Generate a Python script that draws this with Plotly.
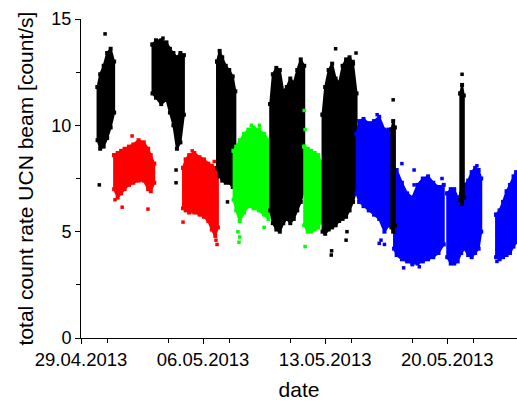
import pandas as pd
import plotly.graph_objects as go

BASE = pd.Timestamp("2013-04-29")

# ---- data: dense clusters as (time in days since 29.04.2013, lower, upper envelope) ----
black1_t = [0.95, 1.1, 1.3, 1.5, 1.7, 1.9]
black1_lo = [9.3, 8.9, 9.0, 9.4, 9.9, 10.6]
black1_hi = [11.8, 12.4, 12.8, 13.4, 13.6, 13.0]

red1_t = [1.9, 2.1, 2.3, 2.5, 2.75, 3.0, 3.3, 3.6, 3.85, 4.0, 4.2]
red1_lo = [7.0, 6.6, 6.8, 7.0, 7.2, 7.3, 7.4, 7.4, 7.0, 6.9, 7.3]
red1_hi = [8.6, 8.7, 8.8, 8.9, 9.0, 9.1, 9.3, 9.2, 8.9, 8.6, 8.2]

black2_t = [4.1, 4.3, 4.6, 4.9, 5.1, 5.3, 5.5, 5.7, 5.9]
black2_lo = [11.5, 11.3, 11.0, 11.2, 10.6, 10.0, 8.9, 9.2, 10.5]
black2_hi = [13.8, 14.0, 14.0, 13.9, 13.6, 13.4, 13.2, 13.4, 13.3]

red2_t = [5.85, 6.0, 6.2, 6.5, 6.8, 7.05, 7.3, 7.5, 7.7, 7.85]
red2_lo = [6.1, 6.0, 5.9, 5.9, 5.8, 5.7, 5.5, 5.1, 4.8, 5.2]
red2_hi = [8.0, 8.4, 8.6, 8.7, 8.5, 8.4, 8.2, 8.1, 8.0, 7.6]

black3_t = [7.8, 7.95, 8.1, 8.3, 8.5, 8.7, 8.85]
black3_lo = [8.0, 7.6, 7.4, 7.3, 7.3, 7.1, 7.6]
black3_hi = [13.0, 13.5, 13.2, 12.8, 12.6, 12.3, 11.6]

green1_t = [8.75, 8.9, 9.1, 9.35, 9.6, 9.9, 10.2, 10.5, 10.75, 10.9]
green1_lo = [6.5, 6.0, 5.5, 5.9, 6.2, 6.1, 6.0, 5.8, 5.6, 6.5]
green1_hi = [8.8, 9.0, 9.3, 9.6, 9.8, 9.9, 9.8, 9.6, 9.3, 8.8]

black4_t = [10.85, 11.0, 11.2, 11.4, 11.6, 11.8, 12.0, 12.2, 12.4, 12.6, 12.8]
black4_lo = [6.0, 5.4, 5.1, 5.0, 5.4, 5.6, 5.4, 5.6, 6.0, 6.4, 7.0]
black4_hi = [11.0, 12.4, 12.7, 12.6, 11.6, 11.8, 12.2, 12.0, 12.6, 13.1, 12.8]

green2_t = [12.8, 13.0, 13.2, 13.4, 13.6, 13.8]
green2_lo = [5.3, 5.0, 5.0, 5.1, 5.2, 5.5]
green2_hi = [9.0, 8.9, 8.8, 8.7, 8.6, 8.2]

black5_t = [13.85, 14.0, 14.2, 14.4, 14.6, 14.8, 15.0, 15.2, 15.4, 15.6, 15.8]
black5_lo = [5.0, 4.9, 5.1, 5.2, 5.3, 5.5, 5.6, 5.7, 6.0, 6.4, 7.0]
black5_hi = [10.5, 11.8, 12.6, 12.9, 12.2, 12.0, 12.8, 13.1, 13.2, 12.9, 11.5]

blue1_t = [15.8, 15.95, 16.2, 16.5, 16.8, 17.1, 17.4, 17.65, 17.85]
blue1_lo = [6.8, 6.4, 6.2, 6.0, 5.8, 5.6, 5.0, 5.3, 5.6]
blue1_hi = [9.6, 10.2, 10.3, 10.1, 10.2, 10.4, 9.8, 9.8, 9.2]

black6_t = [17.8, 17.9, 18.0]
black6_lo = [5.2, 5.0, 5.3]
black6_hi = [9.8, 10.2, 9.9]

blue2_t = [17.95, 18.1, 18.4, 18.7, 19.0, 19.3, 19.6, 19.9, 20.2, 20.5, 20.8]
blue2_lo = [4.2, 3.9, 3.7, 3.6, 3.5, 3.5, 3.6, 3.7, 3.8, 4.0, 4.4]
blue2_hi = [7.6, 7.9, 7.3, 6.8, 6.6, 7.2, 7.5, 7.6, 7.3, 7.1, 7.2]

black7_t = [21.75, 21.85, 21.95]
black7_lo = [6.5, 6.3, 6.6]
black7_hi = [11.5, 11.9, 11.4]

blue3_t = [21.0, 21.2, 21.4, 21.6, 21.8, 22.0, 22.2, 22.4, 22.6, 22.8, 22.95]
blue3_lo = [3.8, 3.5, 3.5, 3.6, 4.0, 4.2, 3.9, 3.8, 4.0, 4.2, 5.0]
blue3_hi = [6.8, 7.0, 7.0, 6.6, 6.8, 7.2, 7.4, 7.8, 8.0, 7.9, 7.5]

blue4_t = [23.8, 24.0, 24.2, 24.4, 24.6, 24.8, 24.95]
blue4_lo = [3.8, 3.7, 3.8, 3.9, 4.0, 4.3, 4.5]
blue4_hi = [5.8, 6.0, 6.4, 6.9, 7.2, 7.6, 7.8]

# ---- isolated points ----
black_out_t = [1.05, 1.38, 4.7, 5.45, 5.45, 8.4, 14.35, 14.37, 14.6, 15.77, 15.6,
               15.2, 15.25, 17.9, 21.85]
black_out_v = [7.2, 14.3, 14.1, 7.3, 7.9, 6.4, 3.9, 4.1, 13.6, 13.4, 13.0,
               4.6, 5.0, 11.2, 12.4]
red_out_t = [1.95, 2.36, 3.84, 2.93, 5.85, 6.38, 7.64, 7.74, 7.8]
red_out_v = [6.5, 6.15, 6.06, 9.5, 5.45, 8.8, 8.3, 4.6, 4.4]
green_out_t = [9.06, 9.1, 9.0, 9.77, 10.23, 10.5, 12.8, 12.85, 12.85]
green_out_v = [4.5, 4.75, 5.0, 10.0, 10.0, 5.2, 10.7, 9.8, 4.3]
blue_out_t = [16.98, 17.1, 17.2, 17.4, 18.4, 19.1, 19.1, 19.0, 19.4, 18.5, 20.7,
              22.7, 23.85]
blue_out_v = [10.5, 4.45, 4.6, 4.4, 8.2, 7.9, 7.2, 3.45, 3.35, 3.3, 7.5,
              8.1, 3.6]

BLACK, RED, GREEN, BLUE = "#000000", "#ff0000", "#00ff00", "#0000ff"

clusters = [
    (black1_t, black1_lo, black1_hi, BLACK),
    (red1_t, red1_lo, red1_hi, RED),
    (black2_t, black2_lo, black2_hi, BLACK),
    (red2_t, red2_lo, red2_hi, RED),
    (black3_t, black3_lo, black3_hi, BLACK),
    (green1_t, green1_lo, green1_hi, GREEN),
    (black4_t, black4_lo, black4_hi, BLACK),
    (green2_t, green2_lo, green2_hi, GREEN),
    (black5_t, black5_lo, black5_hi, BLACK),
    (blue1_t, blue1_lo, blue1_hi, BLUE),
    (blue2_t, blue2_lo, blue2_hi, BLUE),
    (blue3_t, blue3_lo, blue3_hi, BLUE),
    (blue4_t, blue4_lo, blue4_hi, BLUE),
    (black6_t, black6_lo, black6_hi, BLACK),
    (black7_t, black7_lo, black7_hi, BLACK),
]


def to_dates(ts):
    return [BASE + pd.Timedelta(days=t) for t in ts]


fig = go.Figure()
for t, lo, hi, col in clusters:
    xs = to_dates(list(t) + list(t)[::-1] + [t[0]])
    ys = list(hi) + list(lo)[::-1] + [hi[0]]
    fig.add_trace(go.Scatter(x=xs, y=ys, mode="lines+markers", fill="toself",
                             fillcolor=col, line=dict(color=col, width=2),
                             marker=dict(symbol="square", size=4, color=col),
                             hoverinfo="skip", showlegend=False))

for t, v, col in [(black_out_t, black_out_v, BLACK), (red_out_t, red_out_v, RED),
                  (green_out_t, green_out_v, GREEN), (blue_out_t, blue_out_v, BLUE)]:
    fig.add_trace(go.Scatter(x=to_dates(t), y=v, mode="markers",
                             marker=dict(symbol="square", size=3.5, color=col),
                             showlegend=False))

DAY = 86400000
FONT = "Liberation Sans, Arial, sans-serif"
fig.update_layout(
    width=517, height=404,
    margin=dict(l=81, r=0, t=19, b=66),
    paper_bgcolor="white", plot_bgcolor="white",
    font=dict(family=FONT, color="black", size=18),
    xaxis=dict(
        type="date", range=[BASE, BASE + pd.Timedelta(days=25)],
        tick0=BASE, dtick=7 * DAY, tickformat="%d.%m.%Y",
        ticks="outside", ticklen=5, tickcolor="black",
        showline=True, linecolor="black", linewidth=1,
        showgrid=False, zeroline=False, automargin=False,
        minor=dict(dtick=3.5 * DAY, ticks="outside", ticklen=4, tickcolor="black", showgrid=False),
        tickfont=dict(size=18.5),
        title=dict(text="date", font=dict(size=21), standoff=13),
    ),
    yaxis=dict(
        range=[0, 15], dtick=5, tick0=0,
        ticks="outside", ticklen=5, tickcolor="black",
        showline=True, linecolor="black", linewidth=1,
        showgrid=False, zeroline=False, automargin=False,
        minor=dict(dtick=2.5, ticks="outside", ticklen=4, tickcolor="black", showgrid=False),
        tickfont=dict(size=18),
        title=dict(text="total count rate UCN beam [count/s]", font=dict(size=21), standoff=12),
    ),
)

# remove the page's default 8px body margin so the 517x404 figure fills the window
fig.write_html("out.html",
               config={"displayModeBar": False},
               post_script="document.body.style.margin='0';document.body.style.overflow='hidden';")
